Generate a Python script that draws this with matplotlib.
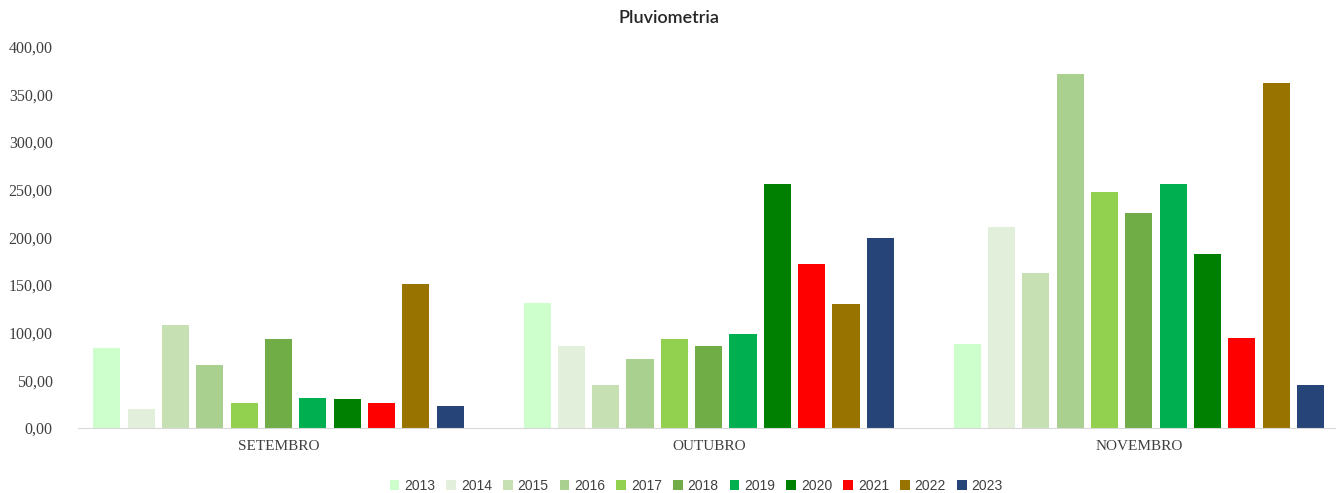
import matplotlib.pyplot as plt
import numpy as np

# --- data ---
meses = ["SETEMBRO", "OUTUBRO", "NOVEMBRO"]
anos = ["2013", "2014", "2015", "2016", "2017", "2018", "2019", "2020", "2021", "2022", "2023"]
setembro = [84, 20, 108, 66, 26, 93, 31.5, 30.5, 26, 151, 23]
outubro = [131, 86, 45, 72, 93, 86, 99, 256, 172, 130, 199.5]
novembro = [88, 211, 163, 372, 248, 226, 256, 183, 94.5, 362, 45]
cores = ["#CCFFCC", "#E2EFDA", "#C6E0B4", "#A9D08E", "#92D050", "#70AD47",
         "#00B050", "#008000", "#FF0000", "#997300", "#264478"]

valores = np.array([setembro, outubro, novembro])

fig = plt.figure(figsize=(13.39, 4.93), dpi=100)
ax = fig.add_axes([0.058, 0.132, 0.939, 0.773])

x = np.arange(len(meses))
slot = 0.0798
largura = 0.063
for i, ano in enumerate(anos):
    pos = x + (i - (len(anos) - 1) / 2) * slot
    ax.bar(pos, valores[:, i], width=largura, color=cores[i], label=ano)

ax.set_xlim(-0.467, 2.456)
ax.set_ylim(0, 400)
ax.set_yticks(np.arange(0, 401, 50))
ax.set_yticklabels([f"{v:.2f}".replace(".", ",") for v in np.arange(0, 401, 50)],
                   family="Liberation Serif", fontsize=11.5, color="#404040")
ax.set_xticks(x)
ax.set_xticklabels(meses, family="Liberation Serif", fontsize=11, color="#404040")
ax.tick_params(axis="both", length=0)
ax.tick_params(axis="y", pad=18)
ax.tick_params(axis="x", pad=9)

for s in ["top", "right", "left"]:
    ax.spines[s].set_visible(False)
ax.spines["bottom"].set_color("#D9D9D9")

fig.suptitle("Pluviometria", y=0.98, fontsize=13, family="Lato", fontweight="semibold",
             color="#262626")

fig.legend(loc="lower center", ncol=len(anos), frameon=False, bbox_to_anchor=(0.52, -0.025),
           prop={"family": "Liberation Sans", "size": 10}, handlelength=0.7, handleheight=0.7,
           handletextpad=0.35, columnspacing=0.8, labelcolor="#404040")

fig.savefig("out.png", dpi=100)
